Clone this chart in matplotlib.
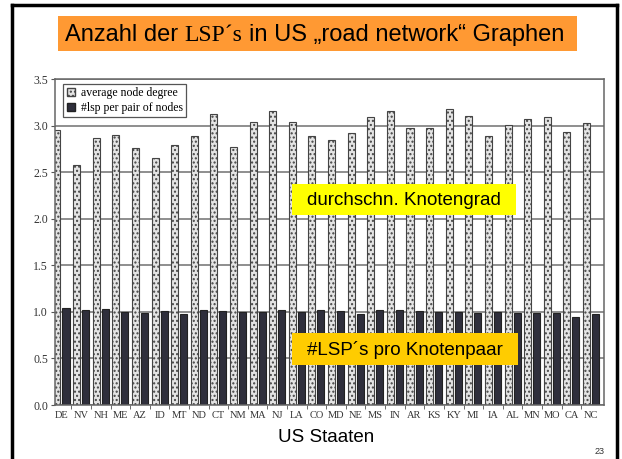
import matplotlib
matplotlib.use("Agg")
import matplotlib.pyplot as plt
from matplotlib.patches import Rectangle, Patch
from matplotlib.text import Annotation
import numpy as np

states = ["DE", "NV", "NH", "ME", "AZ", "ID", "MT", "ND", "CT", "NM", "MA", "NJ", "LA", "CO",
          "MD", "NE", "MS", "IN", "AR", "KS", "KY", "MI", "IA", "AL", "MN", "MO", "CA", "NC"]
avg_degree = [2.95, 2.58, 2.87, 2.90, 2.76, 2.65, 2.79, 2.89, 3.12, 2.77, 3.04, 3.16, 3.04, 2.89,
              2.84, 2.92, 3.09, 3.16, 2.97, 2.97, 3.18, 3.10, 2.89, 3.01, 3.07, 3.09, 2.93, 3.03]
lsp_per_pair = [1.04, 1.02, 1.03, 1.00, 0.99, 1.01, 0.98, 1.02, 1.01, 1.00, 1.00, 1.02, 1.00, 1.02,
                1.01, 0.98, 1.02, 1.02, 1.01, 1.00, 1.00, 0.99, 1.00, 0.99, 0.99, 0.99, 0.95, 0.98]
yticks = [0.0, 0.5, 1.0, 1.5, 2.0, 2.5, 3.0, 3.5]
legend_labels = ["average node degree", "#lsp per pair of nodes"]

W, H = 622, 459
fig = plt.figure(figsize=(W / 100, H / 100), dpi=100)

def fx(px):
    return px / W

def fy(py):
    return 1 - py / H

# slide frame
for xs, ys in [([12, 12], [5, 470]), ([12, 617], [5, 5]), ([617, 617], [5, 470])]:
    fig.add_artist(plt.Line2D([fx(v) for v in xs], [fy(v) for v in ys], color="black", lw=2.5,
                              transform=fig.transFigure))

ax = fig.add_axes([fx(55), fy(405), fx(604) - fx(55), fy(79) - fy(405)])
x = np.arange(len(states))
bw = 0.36
off = 0.23
ax.bar(x - off, avg_degree, width=bw, facecolor="#e4e4e4", edgecolor="#444444",
       hatch="....", linewidth=0.8, zorder=2)
ax.bar(x + off, lsp_per_pair, width=bw, facecolor="#2f2f3c", edgecolor="#222222",
       linewidth=0.8, zorder=2)

ax.set_xlim(-0.33, len(states) - 1 + 0.66)
ax.set_ylim(0, 3.5)
ax.set_yticks(yticks)
ax.set_yticklabels([f"{v:.1f}" for v in yticks], family="Liberation Serif", fontsize=8.5,
                   color="#333333")
ax.set_xticks(x)
ax.set_xticklabels(states, family="Liberation Serif", fontsize=7.5, color="#333333")
ax.set_xticks(np.arange(len(states) - 1) + 0.5, minor=True)
ax.tick_params(axis="x", which="major", length=0, pad=4)
ax.tick_params(axis="x", which="minor", length=3, direction="out", color="#555555")
ax.tick_params(axis="y", length=3, direction="out", color="#555555", pad=2)
ax.grid(axis="y", color="#707070", linewidth=1.1)
ax.set_axisbelow(True)
for s in ax.spines.values():
    s.set_color("#666666")
    s.set_linewidth(1.1)

handles = [Patch(facecolor="#e4e4e4", edgecolor="#444444", hatch="...."),
           Patch(facecolor="#2f2f3c", edgecolor="#222222")]
leg = ax.legend(handles, legend_labels, loc="upper left", bbox_to_anchor=(0.015, 0.985),
                borderaxespad=0, prop={"family": "Liberation Serif", "size": 8.5},
                fancybox=False, edgecolor="#555555", framealpha=1, handlelength=0.7,
                handleheight=0.7, handletextpad=0.5, borderpad=0.3, labelspacing=0.2)
leg.get_frame().set_linewidth(0.9)

# title box
fig.add_artist(Rectangle((fx(58), fy(51)), fx(577) - fx(58), fy(16) - fy(51),
                         transform=fig.transFigure, facecolor="#ff9933", edgecolor="none",
                         zorder=1))
t1 = fig.text(fx(65), fy(41), "Anzahl der", family="Liberation Sans", fontsize=17,
              va="baseline", ha="left", zorder=5)
t2 = Annotation("LSP\u00b4s", xy=(1, 0), xycoords=t1, xytext=(4.7, 0),
                textcoords="offset points", family="Liberation Serif", fontsize=17,
                va="bottom", ha="left", annotation_clip=False, zorder=5)
fig.add_artist(t2)
t3 = Annotation("in US \u201eroad network\u201c Graphen", xy=(1, 0), xycoords=t2,
                xytext=(4.7, 0), textcoords="offset points",
                family="Liberation Sans", fontsize=17, va="bottom", ha="left",
                annotation_clip=False, zorder=5)
fig.add_artist(t3)

# annotation boxes
fig.add_artist(Rectangle((fx(292), fy(215)), fx(516) - fx(292), fy(184) - fy(215),
                         transform=fig.transFigure, facecolor="#ffff00", edgecolor="none"))
fig.text(fx(404), fy(200), "durchschn. Knotengrad", family="Liberation Sans", fontsize=13.5,
         ha="center", va="center")
fig.add_artist(Rectangle((fx(292), fy(365)), fx(518) - fx(292), fy(333) - fy(365),
                         transform=fig.transFigure, facecolor="#ffcc00", edgecolor="none"))
fig.text(fx(405), fy(350), "#LSP\u00b4s pro Knotenpaar", family="Liberation Sans", fontsize=13.5,
         ha="center", va="center")

fig.text(fx(326), fy(437), "US Staaten", family="Liberation Sans", fontsize=13.5,
         ha="center", va="center")
fig.text(fx(600), fy(451), "23", family="Liberation Sans", fontsize=6.5, ha="center",
         va="center", color="#333333")

fig.savefig("out.png", dpi=100)
